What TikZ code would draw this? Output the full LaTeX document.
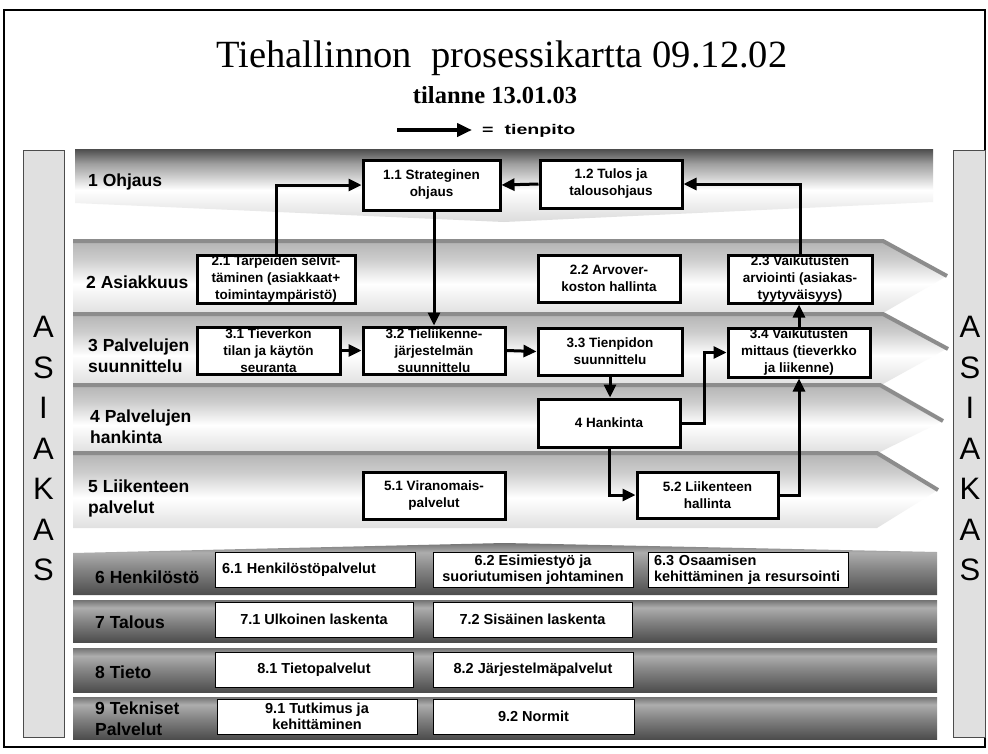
\documentclass[tikz,border=0pt]{standalone}
\usepackage{fontspec}
\setmainfont{Liberation Sans}
\newfontfamily\serifttl{Liberation Serif}
\usetikzlibrary{arrows.meta}
\definecolor{bOneA}{gray}{0.86}
\definecolor{bOneB}{gray}{0.62}
\definecolor{bOneC}{gray}{0.30}
\definecolor{bMidA}{gray}{0.88}
\definecolor{bMidB}{gray}{0.80}
\definecolor{bMidC}{gray}{0.70}
\definecolor{bLowA}{gray}{0.30}
\definecolor{bLowB}{gray}{0.52}
\definecolor{bLowC}{gray}{0.68}
\definecolor{bLowD}{gray}{0.45}
\definecolor{stripcol}{gray}{0.55}
\definecolor{asfill}{gray}{0.88}
\pgfdeclareverticalshading{bandone}{100bp}{color(0bp)=(bOneA); color(25bp)=(bOneA); color(47bp)=(white); color(65bp)=(bOneB); color(75bp)=(bOneC); color(100bp)=(bOneC)}
\pgfdeclareverticalshading{bandmid}{100bp}{color(0bp)=(bMidA); color(25bp)=(bMidA); color(45bp)=(white); color(62bp)=(bMidB); color(75bp)=(bMidC); color(100bp)=(bMidC)}
\pgfdeclareverticalshading{bandlow}{100bp}{color(0bp)=(bLowA); color(25bp)=(bLowA); color(50bp)=(bLowB); color(66bp)=(bLowC); color(75bp)=(bLowD); color(100bp)=(bLowD)}
\tikzset{
  ubox/.style={draw, line width=3pt, fill=white, align=center, inner sep=0pt,
    font=\bfseries\fontsize{13.5}{17}\selectfont},
  lbox/.style={draw, line width=0.9pt, fill=white, align=center, inner sep=0pt,
    minimum height=35pt, font=\bfseries\fontsize{14.5}{16}\selectfont},
  lane/.style={anchor=west, align=left, inner sep=0pt, font=\bfseries\fontsize{17.5}{21}\selectfont},
  arr/.style={line width=3pt, -{Triangle[length=13pt,width=12pt]}},
  asbox/.style={draw=black!70, line width=0.8pt, fill=asfill},
  asletters/.style={align=center, inner sep=0pt, font=\fontsize{31}{40.5}\selectfont},
  strip/.style={line width=4pt, stripcol}
}
\begin{document}
\begin{tikzpicture}[x=1pt,y=-1pt]
\useasboundingbox (0,0) rectangle (988,753);
\fill[white] (0,0) rectangle (988,753);
% frame
\draw[line width=1.3pt] (4,10) rectangle (985,747);
% title
\node[anchor=base, inner sep=0pt, font=\serifttl\fontsize{38.5}{40}\selectfont] (title) at (502,67) {Tiehallinnon\ \ prosessikartta 09.12.02};
\node[anchor=base, inner sep=0pt, font=\serifttl\bfseries\fontsize{24.5}{26}\selectfont] (sub) at (495,103) {tilanne 13.01.03};
\coordinate (lgA) at (397,130);
\coordinate (lgB) at (472,130);
\draw[line width=4pt, -{Triangle[length=15pt,width=13pt]}] (lgA) -- (lgB);
\node[anchor=west, inner sep=0pt, font=\bfseries\fontsize{14}{15}\selectfont] (lgT) at (482,131) {\scalebox{1.4}[1]{=\ \ tienpito}};
% side boxes
\draw[asbox] (23,150) rectangle (64,737);
\draw[asbox] (953,150) rectangle (985,737);
\node[asletters] (asL) at (43.5,448.5) {A\\S\\I\\A\\K\\A\\S};
\node[asletters] (asR) at (970,448.5) {A\\S\\I\\A\\K\\A\\S};
% band 1
\shade[shading=bandone] (75,149) -- (933,149) -- (933,202) -- (504,222) -- (75,203) -- cycle;
% bands 2-5
\shade[shading=bandmid] (73,240) -- (883,240) -- (947,276) -- (883,313) -- (73,313) -- cycle;
\draw[strip] (73,241) -- (883,241) -- (947,276);
\shade[shading=bandmid] (73,313) -- (883,313) -- (948,348) -- (883,384) -- (73,384) -- cycle;
\draw[strip] (73,314) -- (883,314) -- (948,349);
\shade[shading=bandmid] (73,384) -- (880,384) -- (943,421) -- (880,452) -- (73,452) -- cycle;
\draw[strip] (73,385) -- (880,385) -- (943,421);
\shade[shading=bandmid] (73,452) -- (877,452) -- (938,490) -- (877,528) -- (73,528) -- cycle;
\draw[strip] (73,453) -- (877,453) -- (938,490);
% bands 6-9
\shade[shading=bandlow] (73,553) -- (504,543) -- (937,552) -- (937,595) -- (73,595) -- cycle;
\shade[shading=bandlow] (73,600) rectangle (937,642);
\shade[shading=bandlow] (73,648) rectangle (937,692);
\shade[shading=bandlow] (73,697) rectangle (937,739);
% lane labels
\node[lane] (l1) at (88,182) {1 Ohjaus};
\node[lane] (l2) at (86,282) {2 Asiakkuus};
\node[lane] (l3) at (88,356) {3 Palvelujen\\suunnittelu};
\node[lane] (l4) at (90,427) {4 Palvelujen\\hankinta};
\node[lane] (l5) at (88,498) {5 Liikenteen\\palvelut};
\node[lane] (l6) at (95,577) {6 Henkilöstö};
\node[lane] (l7) at (95,622) {7 Talous};
\node[lane] (l8) at (95,672) {8 Tieto};
\node[lane] (l9) at (95,719) {9 Tekniset\\Palvelut};
% process boxes
\node[ubox, minimum width=137pt, minimum height=50pt] (n11) at (431.5,185) {1.1 Strateginen\\ohjaus};
\node[ubox, minimum width=142pt, minimum height=48pt] (n12) at (611,184) {1.2 Tulos ja\\talousohjaus};
\node[ubox, minimum width=158pt, minimum height=48pt] (n21) at (276,279) {2.1 Tarpeiden selvit-\\täminen (asiakkaat+\\toimintaympäristö)};
\node[ubox, minimum width=142pt, minimum height=47pt] (n22) at (609,278.5) {2.2 Arvover-\\koston hallinta};
\node[ubox, minimum width=144pt, minimum height=48pt] (n23) at (800,279) {2.3 Vaikutusten\\arviointi (asiakas-\\tyytyväisyys)};
\node[ubox, minimum width=143pt, minimum height=47pt] (n31) at (268.5,350.5) {3.1 Tieverkon\\tilan ja käytön\\seuranta};
\node[ubox, minimum width=142pt, minimum height=47pt] (n32) at (434,350.5) {3.2 Tieliikenne-\\järjestelmän\\suunnittelu};
\node[ubox, minimum width=144pt, minimum height=47pt] (n33) at (610,351.5) {3.3 Tienpidon\\suunnittelu};
\node[ubox, minimum width=142pt, minimum height=49pt] (n34) at (799,352.5) {3.4 Vaikutusten\\mittaus (tieverkko\\ja liikenne)};
\node[ubox, minimum width=142pt, minimum height=48pt] (n4) at (609,423) {4 Hankinta};
\node[ubox, minimum width=142pt, minimum height=47pt] (n51) at (434,495.5) {5.1 Viranomais-\\palvelut};
\node[ubox, minimum width=141pt, minimum height=46pt] (n52) at (707.5,495) {5.2 Liikenteen\\hallinta};
% support boxes
\node[lbox, minimum width=200pt, text width=186pt, align=left] (n61) at (315,569.5) {6.1 Henkilöstöpalvelut};
\node[lbox, minimum width=200pt] (n62) at (533,569.5) {6.2 Esimiestyö ja\\suoriutumisen johtaminen};
\node[lbox, minimum width=200pt, text width=188pt, align=left] (n63) at (748,569.5) {6.3 Osaamisen\\kehittäminen ja resursointi};
\node[lbox, minimum width=198pt] (n71) at (314,619.5) {7.1 Ulkoinen laskenta};
\node[lbox, minimum width=199pt] (n72) at (532.5,619.5) {7.2 Sisäinen laskenta};
\node[lbox, minimum width=198pt] (n81) at (314,669.5) {8.1 Tietopalvelut};
\node[lbox, minimum width=200pt] (n82) at (533,669.5) {8.2 Järjestelmäpalvelut};
\node[lbox, minimum width=200pt] (n91) at (317,716.5) {9.1 Tutkimus ja\\kehittäminen};
\node[lbox, minimum width=201pt] (n92) at (533.5,716.5) {9.2 Normit};
% connectors
\draw[arr] (n21.north) |- (n11.west);
\draw[arr] (n12.west) -- (n11.east);
\draw[arr] (n23.north) |- (n12.east);
\draw[arr] (n11.south -| n32.north) -- (n32.north);
\draw[arr] (n31.east) -- (n32.west);
\draw[arr] (n32.east) -- (n33.west);
\draw[arr] (n33.south) -- (n33.south |- n4.north);
\draw[arr] (n4.east) -- ++(23,0) |- (n34.west);
\draw[arr] (n4.south) |- (n52.west);
\draw[arr] (n52.east) -| (n34.south);
\draw[arr] (n34.north) -- (n34.north |- n23.south);
\end{tikzpicture}
\end{document}
